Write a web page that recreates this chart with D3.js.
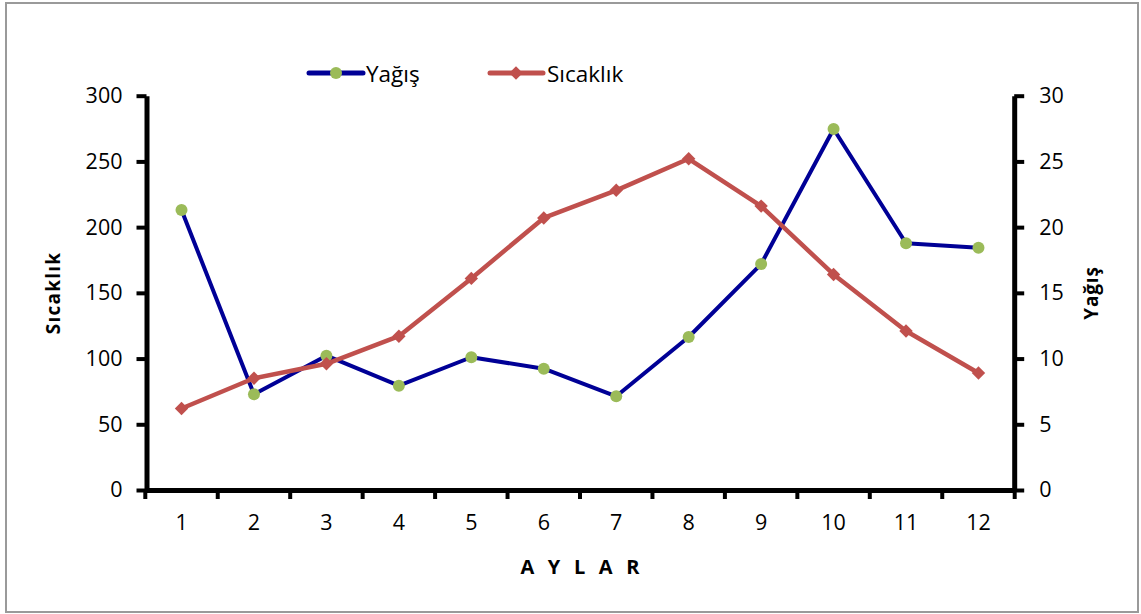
<!DOCTYPE html>
<html>
<head>
<meta charset="utf-8">
<script src="https://cdn.jsdelivr.net/npm/d3@7"></script>
<style>
  html, body { margin: 0; padding: 0; background: #fff; }
  svg { display: block; font-family: "Open Sans", "Noto Sans", sans-serif; }
</style>
</head>
<body>
<svg id="chart" width="1141" height="614"></svg>
<script>
// Monthly values
const months = ["1", "2", "3", "4", "5", "6", "7", "8", "9", "10", "11", "12"];
const yagis = [213, 72.8, 102.2, 79.4, 101, 92.3, 71.3, 116.4, 171.9, 274.7, 187.7, 184.3];
const sicaklik = [6.2, 8.5, 9.6, 11.7, 16.1, 20.7, 22.8, 25.2, 21.6, 16.4, 12.1, 8.9];
const leftTicks = [0, 50, 100, 150, 200, 250, 300];
const rightTicks = [0, 5, 10, 15, 20, 25, 30];

const blue = "#000096", green = "#9BBB59", red = "#C0504D";

const svg = d3.select("#chart");

// outer frame
svg.append("rect")
  .attr("x", 6).attr("y", 3).attr("width", 1132).attr("height", 609)
  .attr("fill", "#fff").attr("stroke", "#9a9a9a").attr("stroke-width", 2);

const plotLeft = 145.3, plotRight = 1014.7, plotBottom = 490, plotTop = 95.7;

const x = d3.scaleBand().domain(months).range([plotLeft, plotRight]);
const yL = d3.scaleLinear().domain([0, 300]).range([plotBottom, plotTop]);
const yR = d3.scaleLinear().domain([0, 30]).range([plotBottom, plotTop]);
const cx = d => x(d) + x.bandwidth() / 2;

function styleAxis(g) {
  g.attr("font-family", null);
  g.select(".domain").attr("stroke", "#000").attr("stroke-width", 5);
  g.selectAll(".tick line").attr("stroke", "#000").attr("stroke-width", 4);
  g.selectAll(".tick text").attr("fill", "#000").attr("font-size", 21.5);
}

// left axis
svg.append("g")
  .attr("transform", `translate(${plotLeft + 1.2},0)`)
  .call(d3.axisLeft(yL).tickValues(leftTicks).tickSize(10).tickSizeOuter(0).tickPadding(14))
  .call(styleAxis);

// right axis
svg.append("g")
  .attr("transform", `translate(${plotRight - 0.5},0)`)
  .call(d3.axisRight(yR).tickValues(rightTicks).tickSize(10).tickSizeOuter(0).tickPadding(15))
  .call(styleAxis);

// bottom axis (labels at category centres)
const gx = svg.append("g")
  .attr("transform", `translate(0,${plotBottom})`)
  .call(d3.axisBottom(x).tickSize(0).tickSizeOuter(0).tickPadding(25))
  .call(styleAxis);

// bottom tick marks at category boundaries
const bounds = months.map(m => x(m)).concat([x.range()[1]]);
gx.selectAll(".bound")
  .data(bounds)
  .join("line")
  .attr("class", "bound")
  .attr("x1", d => d).attr("x2", d => d)
  .attr("y1", 0).attr("y2", 9)
  .attr("stroke", "#000").attr("stroke-width", 4);

// Yağış series (left scale)
svg.append("path")
  .datum(yagis)
  .attr("fill", "none")
  .attr("stroke", blue)
  .attr("stroke-width", 4)
  .attr("stroke-linejoin", "round")
  .attr("d", d3.line().x((d, i) => cx(months[i])).y(d => yL(d)));

svg.append("g").selectAll("circle")
  .data(yagis)
  .join("circle")
  .attr("cx", (d, i) => cx(months[i]))
  .attr("cy", d => yL(d))
  .attr("r", 6)
  .attr("fill", green);

// Sıcaklık series (right scale)
svg.append("path")
  .datum(sicaklik)
  .attr("fill", "none")
  .attr("stroke", red)
  .attr("stroke-width", 4.5)
  .attr("stroke-linejoin", "round")
  .attr("d", d3.line().x((d, i) => cx(months[i])).y(d => yR(d)));

const diamondPath = d3.symbol().type(d3.symbolSquare).size(90)();
svg.append("g").selectAll("path")
  .data(sicaklik)
  .join("path")
  .attr("transform", (d, i) => `translate(${cx(months[i])},${yR(d)}) rotate(45)`)
  .attr("d", diamondPath)
  .attr("fill", red);

// axis titles
svg.append("text")
  .attr("transform", "translate(60,293) rotate(-90)")
  .attr("text-anchor", "middle")
  .attr("font-size", 19).attr("font-weight", "bold")
  .attr("letter-spacing", 1.2)
  .text("Sıcaklık");

svg.append("text")
  .attr("transform", "translate(1098,293) rotate(-90)")
  .attr("text-anchor", "middle")
  .attr("font-size", 19).attr("font-weight", "bold")
  .attr("letter-spacing", 0.8)
  .text("Yağış");

svg.append("text")
  .attr("x", 582).attr("y", 574)
  .attr("text-anchor", "middle")
  .attr("font-size", 20).attr("font-weight", "bold")
  .attr("letter-spacing", 4.2)
  .text("A Y L A R");

// legend
const legend = svg.append("g");
legend.append("line")
  .attr("x1", 309).attr("x2", 363).attr("y1", 73).attr("y2", 73)
  .attr("stroke", blue).attr("stroke-width", 5).attr("stroke-linecap", "round");
legend.append("circle").attr("cx", 336).attr("cy", 73).attr("r", 6).attr("fill", green);
legend.append("text").attr("x", 366).attr("y", 81.5).attr("font-size", 22.5).text("Yağış");

legend.append("line")
  .attr("x1", 490).attr("x2", 543).attr("y1", 73).attr("y2", 73)
  .attr("stroke", red).attr("stroke-width", 5).attr("stroke-linecap", "round");
legend.append("path")
  .attr("transform", "translate(516,73) rotate(45)")
  .attr("d", diamondPath)
  .attr("fill", red);
legend.append("text").attr("x", 547).attr("y", 81.5).attr("font-size", 22.5).text("Sıcaklık");
</script>
</body>
</html>
